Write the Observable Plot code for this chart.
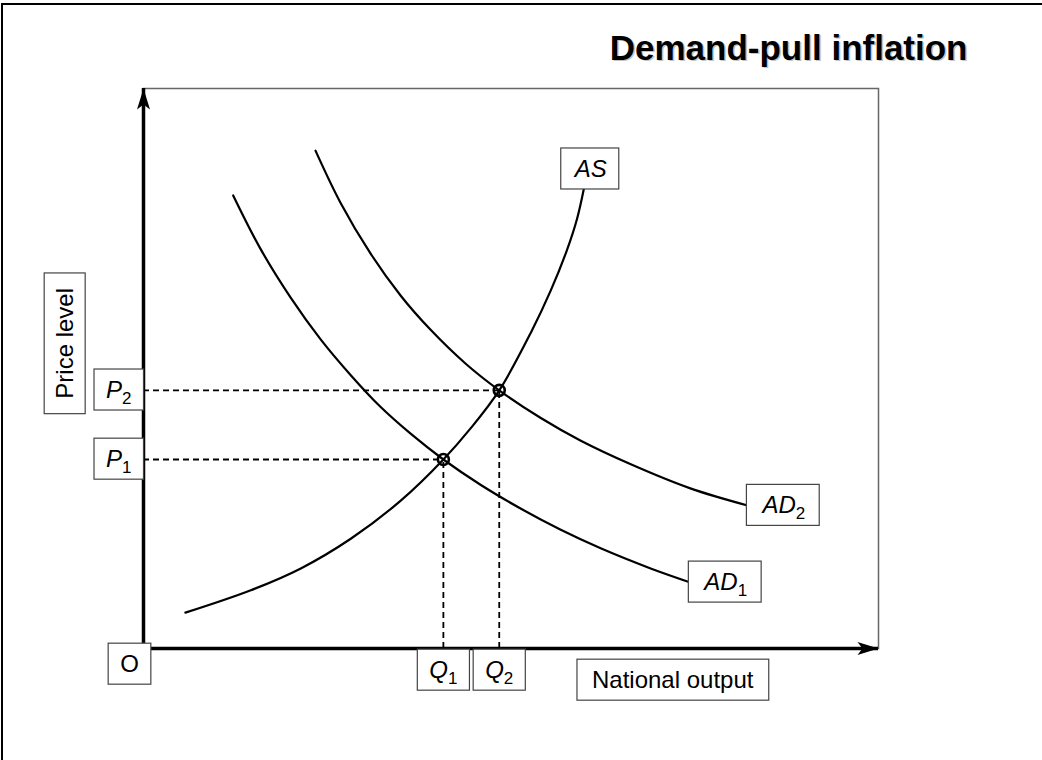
<!DOCTYPE html>
<html><head><meta charset="utf-8">
<script src="https://cdn.jsdelivr.net/npm/d3@7"></script>
<script src="https://cdn.jsdelivr.net/npm/@observablehq/plot@0.6"></script>
<style>
html,body{margin:0;padding:0;background:#fff;}
#chart{position:relative;width:1042px;height:760px;overflow:hidden;}
#chart svg{position:absolute;left:0;top:0;}
#edge{position:absolute;left:1px;top:3px;width:1042px;height:760px;border-top:2px solid #000;border-left:2px solid #000;pointer-events:none;}
</style></head><body><div id="chart"><div id="edge"></div></div>
<script>
// ---- data ----
const chartTitle = "Demand-pull inflation";
const xTitle = "National output";
const yTitle = "Price level";
const originText = "O";

const asQ  = [5.7, 14.6, 21.4, 28.2, 35.0, 40.8, 44.5, 48.4, 52.7, 55.4, 57.6, 59.0, 59.9];
const asP  = [6.4, 10.4, 14.3, 19.6, 26.4, 33.75, 39.3, 46.1, 56.4, 63.9, 71.1, 76.8, 82.0];
const ad1Q = [12.2, 15.9, 20.0, 24.1, 28.2, 32.2, 36.3, 40.8, 45.9, 51.3, 56.7, 62.2, 69.0, 74.4];
const ad1P = [80.9, 71.4, 62.7, 55.2, 48.8, 43.2, 38.4, 33.75, 29.2, 25.0, 21.25, 17.9, 14.3, 11.8];
const ad2Q = [23.4, 26.8, 30.9, 35.0, 39.0, 43.8, 48.4, 54.0, 59.5, 66.3, 74.4, 82.3];
const ad2P = [88.9, 79.6, 70.5, 63.0, 57.0, 50.9, 46.1, 41.2, 37.1, 32.9, 28.6, 25.5];
const curveNames = ["AS", "AD1", "AD2"];
const eqQ = [40.8, 48.4];
const eqP = [33.75, 46.1];
const qLabels = ["Q1", "Q2"];
const pLabels = ["P1", "P2"];
const xTitleAt = 72;   // output position of the x title box
const yTitleAt = 54.5; // price position of the y title box

// ---- tables ----
const curveQ = [asQ, ad1Q, ad2Q], curveP = [asP, ad1P, ad2P];
const lineRows = curveNames.flatMap((n, k) => curveQ[k].map((q, i) => ({curve: n, q, p: curveP[k][i]})));
const ends = curveNames.map((n, k) => ({name: n, q: curveQ[k].at(-1), p: curveP[k].at(-1)}));
const eq = eqQ.map((q, i) => ({q, p: eqP[i], ql: qLabels[i], pl: pLabels[i]}));

const stealth = {
  draw(ctx) {
    ctx.moveTo(0, 0); ctx.lineTo(6.5, 21); ctx.lineTo(0, 16); ctx.lineTo(-6.5, 21); ctx.closePath();
  }
};

const font = "'Liberation Sans', Arial, Helvetica, sans-serif";
const lab = {fontSize: 24, fontFamily: font, fill: "black"};

const chart = Plot.plot({
  width: 1042, height: 760,
  marginLeft: 143, marginRight: 164, marginTop: 88, marginBottom: 112,
  x: {domain: [0, 100], axis: null},
  y: {domain: [0, 100], axis: null},
  style: {fontFamily: font, background: "transparent"},
  marks: [
    Plot.frame({stroke: "#666", strokeWidth: 1.5}),
    Plot.ruleY(eq, {y: "p", x1: 0, x2: "q", stroke: "black", strokeWidth: 1.8, strokeDasharray: "6,4"}),
    Plot.ruleX(eq, {x: "q", y1: 0, y2: "p", stroke: "black", strokeWidth: 1.8, strokeDasharray: "6,4"}),
    Plot.line(lineRows, {x: "q", y: "p", z: "curve", curve: "catmull-rom", stroke: "black", strokeWidth: 2.2}),
    Plot.dot(eq, {x: "q", y: "p", r: 5.5, stroke: "black", strokeWidth: 2.6, fill: "none"}),
    Plot.ruleX([0], {stroke: "black", strokeWidth: 3.5}),
    Plot.ruleY([0], {stroke: "black", strokeWidth: 3.5}),
    Plot.dot([{q: 0, p: 100}], {x: "q", y: "p", symbol: stealth, fill: "black", stroke: "none"}),
    Plot.dot([{q: 100, p: 0}], {x: "q", y: "p", symbol: stealth, fill: "black", stroke: "none", rotate: 90}),
    // boxed labels
    Plot.text(eq, {x: 0, y: "p", text: "pl", textAnchor: "end", dx: -12, fontStyle: "italic", ...lab}),
    Plot.text(eq, {x: "q", y: 0, text: "ql", dy: 22, fontStyle: "italic", ...lab}),
    Plot.text([originText], {x: 0, y: 0, text: d => d, dx: -14, dy: 16, ...lab}),
    Plot.text([xTitle], {x: xTitleAt, y: 0, text: d => d, dy: 32, ...lab}),
    Plot.text([yTitle], {x: 0, y: yTitleAt, text: d => d, dx: -78, rotate: -90, ...lab}),
    Plot.text(ends.filter(d => d.name === "AS"), {x: "q", y: "p", text: "name", dx: 7, dy: -20, fontStyle: "italic", ...lab}),
    Plot.text(ends.filter(d => d.name !== "AS"), {x: "q", y: "p", text: "name", textAnchor: "start", dx: 14, fontStyle: "italic", ...lab}),
    // title with soft shadow
    Plot.text([chartTitle], {frameAnchor: "top-right", lineAnchor: "middle", text: d => d, textAnchor: "end", dx: 90.5, dy: -38.5, fontSize: 35, fontWeight: "bold", fontFamily: font, fill: "#c4c4c4"}),
    Plot.text([chartTitle], {frameAnchor: "top-right", lineAnchor: "middle", text: d => d, textAnchor: "end", dx: 89, dy: -40, fontSize: 35, fontWeight: "bold", fontFamily: font, fill: "black"})
  ]
});

const root = document.getElementById("chart");
root.insertBefore(chart, root.firstChild);

// boxes round labels, with subscripts
const pad = new Map();
[...pLabels, ...qLabels, originText, "AS"].forEach(s => pad.set(s, 12));
curveNames.filter(n => n !== "AS").forEach(s => pad.set(s, 14));
pad.set(xTitle, 15); pad.set(yTitle, 15);

const ns = "http://www.w3.org/2000/svg";
chart.querySelectorAll("text").forEach(t => {
  const raw = t.textContent;
  if (!pad.has(raw)) return;
  const pre = t.getBBox();
  const cy = pre.y + pre.height / 2;
  const m = raw.match(/^([A-Za-z]+)(\d)$/);
  if (m) {
    t.textContent = "";
    const a = document.createElementNS(ns, "tspan");
    a.textContent = m[1];
    const b = document.createElementNS(ns, "tspan");
    b.textContent = m[2];
    b.setAttribute("font-size", "17");
    b.setAttribute("font-style", "normal");
    b.setAttribute("dy", "6");
    t.append(a, b);
  }
  const bb = t.getBBox();
  const px = pad.get(raw);
  const r = document.createElementNS(ns, "rect");
  r.setAttribute("x", bb.x - px);
  r.setAttribute("y", cy - 20.5);
  r.setAttribute("width", bb.width + 2 * px);
  r.setAttribute("height", 41);
  r.setAttribute("fill", "white");
  r.setAttribute("stroke", "#444");
  r.setAttribute("stroke-width", "1.2");
  const tr = t.getAttribute("transform");
  if (tr) r.setAttribute("transform", tr);
  t.parentNode.insertBefore(r, t);
});
</script>
</body></html>
